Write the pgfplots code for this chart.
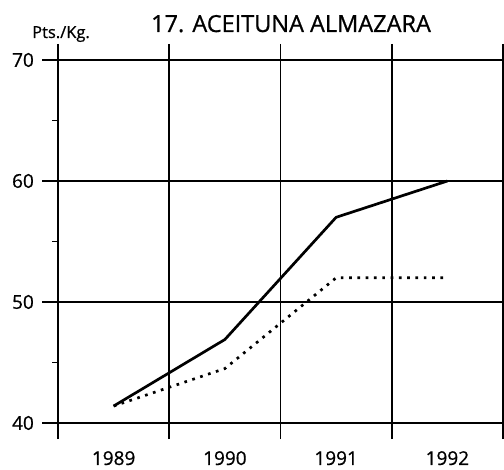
\documentclass[border=0pt]{standalone}
\usepackage{pgfplots}
\pgfplotsset{compat=1.18}
\usepackage{fontspec}
\setmainfont{Open Sans}[BoldFont={Open Sans}, BoldFeatures={FakeBold=0.8}]
\begin{document}
\begin{tikzpicture}
\path[use as bounding box] (-58bp,-47bp) rectangle (446bp,423bp);
\begin{axis}[
  at={(0,0)}, anchor=south west,
  scale only axis, width=445bp, height=363bp,
  xmin=1988.5, xmax=1992.5, ymin=40, ymax=70,
  axis line style={line width=2.2bp},
  tick align=outside,
  major tick length=16bp,
  tick style={line width=1.8bp, black},
  xtick={1988.5,1989.5,1990.5,1991.5,1992.5},
  xticklabels={},
  xmajorgrids,
  ytick={40,50,60,70},
  ymajorgrids,
  grid style={line width=1.8bp, black},
  extra x ticks={1989,1990,1991,1992},
  extra x tick labels={1989,1990,1991,1992},
  extra x tick style={major tick length=0pt, grid=none},
  extra y ticks={45,55,65},
  extra y tick labels={},
  extra y tick style={major tick length=6bp, grid=none},
  /pgf/number format/assume math mode=true,
  ticklabel style={font=\fontsize{19bp}{21bp}\selectfont\bfseries},
  xticklabel style={anchor=north, inner sep=0pt, yshift=-28bp},
  yticklabel style={anchor=east, inner sep=0pt, xshift=-8bp},
  clip=false,
]
\addplot[black, line width=2.7bp] coordinates {(1989,41.4) (1990,46.9) (1991,57) (1992,60)};
\addplot[black, line width=2.7bp, dash pattern=on 2.7bp off 5.6bp] coordinates {(1989,41.4) (1990,44.5) (1991,52) (1992,52)};
\end{axis}
\node[anchor=base, inner sep=0pt, font=\fontsize{23.5bp}{25bp}\selectfont\bfseries] at (233bp,391bp) {17. ACEITUNA ALMAZARA};
\node[anchor=base west, inner sep=0pt, font=\fontsize{16.5bp}{18bp}\selectfont\bfseries] at (-26bp,385bp) {Pts./Kg.};
\end{tikzpicture}
\end{document}
